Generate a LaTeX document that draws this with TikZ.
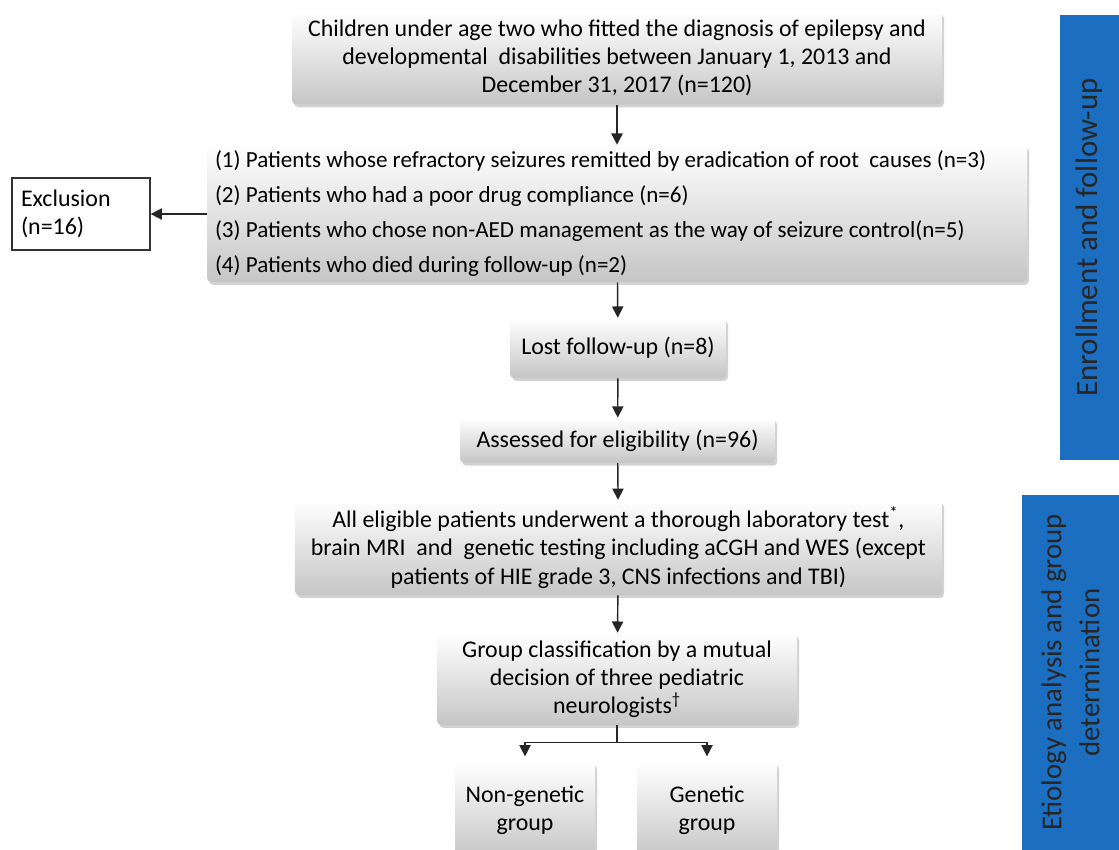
\documentclass[tikz,border=0pt]{standalone}
\usepackage{fontspec}
\setmainfont{Carlito}
\usetikzlibrary{arrows.meta,shadows}

\definecolor{bandblue}{RGB}{28,110,192}
\tikzset{
  graybox/.style={rounded corners=3pt, top color=white, bottom color=gray!45,
    drop shadow={shadow xshift=1.5pt, shadow yshift=-2pt, opacity=0.35},
    align=center, inner sep=2pt, font=\fontsize{17}{20}\selectfont},
  exclbox/.style={draw=black!80, line width=0.9pt, fill=white, align=left,
    font=\fontsize{17}{20}\selectfont},
  band/.style={fill=bandblue, inner sep=0pt, text=black!85},
  flow/.style={-{Triangle[length=8pt,width=8pt]}, line width=1pt, black!85}
}

\begin{document}
\begin{tikzpicture}
            \useasboundingbox (0,0) rectangle (27.975,-21.25);
            \fill[white] (0,0) rectangle (27.975,-21.25);
            % enrollment
            \node[graybox, minimum width=16.25cm, minimum height=2.325cm] (children) at (15.425,-1.45)
                {Children under age two who fitted the diagnosis of epilepsy and\\
                 developmental\ \ disabilities between January 1, 2013 and\\
                 December 31, 2017 (n=120)};
            \node[graybox, minimum width=20.5cm, minimum height=3.425cm, align=flush left,
                  font=\fontsize{16.4}{25}\selectfont, text width=20.1cm] (reasons) at (15.425,-5.3375)
                {(1) Patients whose refractory seizures remitted by eradication of root\ \ causes (n=3)\\
                 (2) Patients who had a poor drug compliance (n=6)\\
                 (3) Patients who chose non-AED management as the way of seizure control(n=5)\\
                 (4) Patients who died during follow-up (n=2)};
            \node[exclbox, minimum width=3.45cm, minimum height=1.8cm, text width=3cm] (excl) at (2.025,-5.35)
                {Exclusion\\(n=16)};
            \node[graybox, minimum width=5.4cm, minimum height=1.5cm] (lost) at (15.45,-8.7)
                {Lost follow-up (n=8)};
            \node[graybox, minimum width=7.875cm, minimum height=1.125cm] (assessed) at (15.44,-11.01)
                {Assessed for eligibility (n=96)};
            % etiology
            \node[graybox, minimum width=16.175cm, minimum height=2.375cm] (workup) at (15.46,-13.69)
                {All eligible patients underwent a thorough laboratory test\textsuperscript{*},\\
                 brain MRI\ \ and\ \ genetic testing including aCGH and WES (except\\
                 patients of HIE grade 3, CNS infections and TBI)};
            \node[graybox, minimum width=9cm, minimum height=2.3cm] (classif) at (15.425,-16.975)
                {Group classification by a mutual\\
                 decision of three pediatric\\
                 neurologists\textsuperscript{\textdagger}};
            \node[graybox, minimum width=3.5cm, minimum height=2.4cm, anchor=north] (nongen) at (13.125,-19.05)
                {Non-genetic\\group};
            \node[graybox, minimum width=3.5cm, minimum height=2.4cm, anchor=north] (gen) at (17.675,-19.05)
                {Genetic\\group};
            % side bands
            \node[band, minimum width=1.475cm, minimum height=11.125cm] (bandA) at (27.2375,-5.9375)
                {\rotatebox{90}{\fontsize{22}{26}\selectfont Enrollment and follow-up}};
            \node[band, minimum width=2.425cm, minimum height=8.875cm] (bandB) at (26.7625,-16.8125)
                {\rotatebox{90}{\parbox{8.6cm}{\centering\fontsize{20.5}{27}\selectfont
                 Etiology analysis and group\\determination}}};
            % connectors
            \draw[flow] (children) -- (reasons);
            \draw[flow] (reasons.west |- excl) -- (excl);
            \draw[flow] (reasons) -- (lost);
            \draw[flow] (lost) -- (assessed);
            \draw[flow] (assessed) -- (workup);
            \draw[flow] (workup) -- (classif);
            \draw[line width=1pt, black!85] (classif.south) -- ++(0,-0.425) coordinate (split);
            \draw[flow, shorten >=4pt] (split) -| (nongen.north);
            \draw[flow, shorten >=4pt] (split) -| (gen.north);
        \end{tikzpicture}
\end{document}
